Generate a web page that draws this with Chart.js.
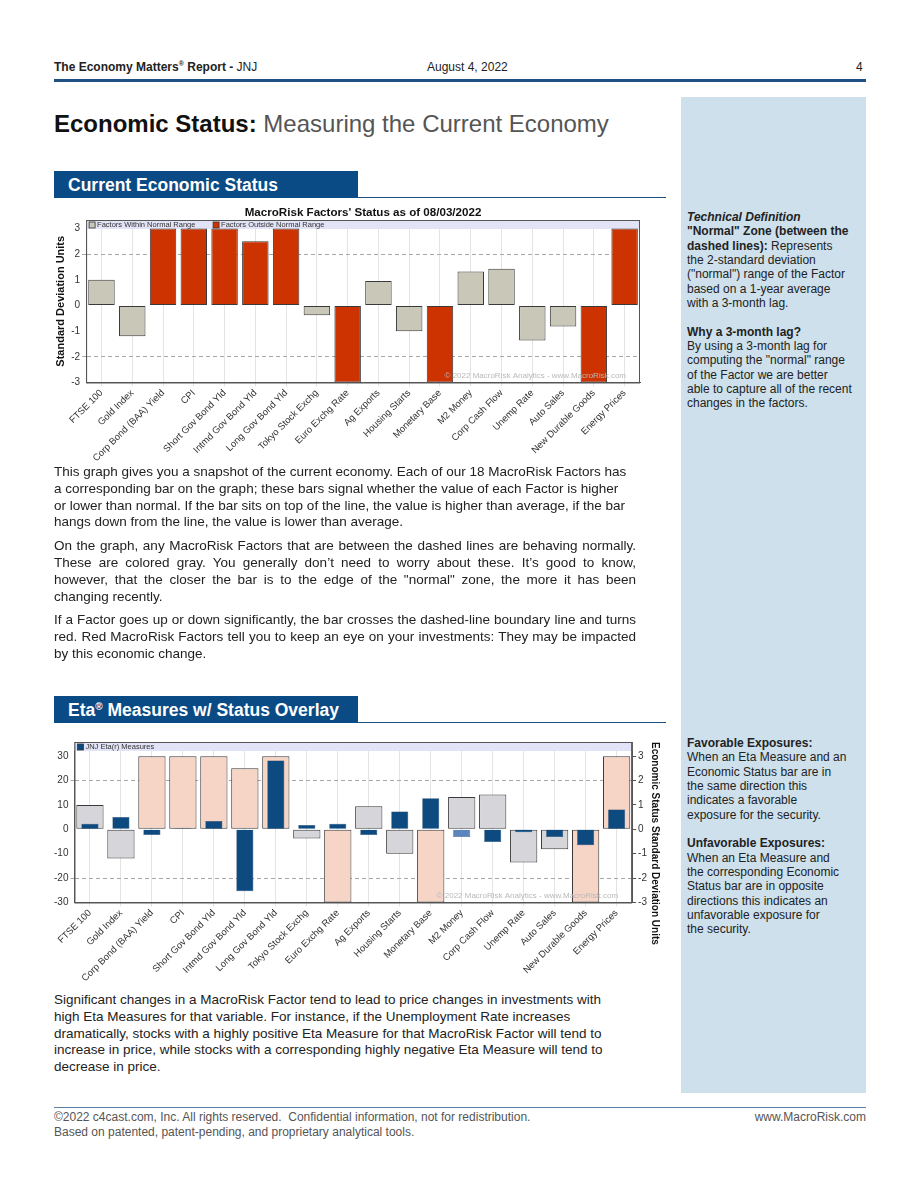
<!DOCTYPE html>
<html>
<head>
<meta charset="utf-8">
<script src="https://cdn.jsdelivr.net/npm/chart.js@4"></script>
<style>
  body { margin: 0; background: #fff; font-family: Arial, "Liberation Sans", sans-serif; color: #222; }
  .pagina { position: relative; width: 920px; height: 1191px; overflow: hidden; }
  .abs { position: absolute; }
  .cab { top: 60px; font-size: 12px; color: #222; white-space: nowrap; }
  .regua { left: 54px; width: 812px; background: #1f5283; }
  .lateral { left: 681px; top: 97px; width: 185px; height: 996px; background: #cde0ec; }
  .titulo { left: 54px; top: 110px; font-size: 24px; color: #555; white-space: nowrap; }
  .titulo b { color: #111; }
  .secao { left: 54px; width: 304px; height: 27px; background: #0b4b85; color: #fff; font-weight: bold; font-size: 17.5px; line-height: 28px; padding-left: 14px; box-sizing: border-box; white-space: nowrap; }
  .secao sup { font-size: 10px; line-height: 0; vertical-align: 6px; }
  .linhaSecao { left: 358px; width: 308px; height: 1px; background: #1f5283; }
  .texto { left: 54px; font-size: 13.5px; line-height: 16.8px; color: #222; white-space: nowrap; }
  .texto .j { text-align: justify; text-align-last: justify; white-space: normal; }
  .lado { left: 687px; width: 178px; font-size: 12px; line-height: 14.35px; color: #222; white-space: nowrap; }
  .rodape { left: 54px; font-size: 12px; line-height: 15px; color: #555; white-space: nowrap; }
</style>
</head>
<body>
<div class="pagina">
  <div class="abs cab" style="left:54px;font-weight:bold;">The Economy Matters<sup style="font-size:7px">®</sup> Report - <span style="font-weight:normal">JNJ</span></div>
  <div class="abs cab" style="left:427px;">August 4, 2022</div>
  <div class="abs cab" style="left:856px;">4</div>
  <div class="abs regua" style="top:79px;height:3px;"></div>

  <div class="abs lateral"></div>

  <div class="abs titulo"><b>Economic Status:</b> Measuring the Current Economy</div>

  <div class="abs secao" style="top:171px;">Current Economic Status</div>
  <div class="abs linhaSecao" style="top:197px;"></div>

  <div class="abs" style="left:50px;top:203px;width:600px;height:262px;">
    <canvas id="graficoStatus" width="600" height="262"></canvas>
  </div>

  <div class="abs lado" style="top:210px;">
    <b><i>Technical Definition</i></b><br>
    <b>"Normal" Zone (between the</b><br>
    <b>dashed lines):</b> Represents<br>
    the 2-standard deviation<br>
    ("normal") range of the Factor<br>
    based on a 1-year average<br>
    with a 3-month lag.<br><br>
    <b>Why a 3-month lag?</b><br>
    By using a 3-month lag for<br>
    computing the "normal" range<br>
    of the Factor we are better<br>
    able to capture all of the recent<br>
    changes in the factors.
  </div>

  <div class="abs texto" style="top:464px;width:582px;">
    <div>This graph gives you a snapshot of the current economy. Each of our 18 MacroRisk Factors has</div>
    <div>a corresponding bar on the graph; these bars signal whether the value of each Factor is higher</div>
    <div>or lower than normal. If the bar sits on top of the line, the value is higher than average, if the bar</div>
    <div>hangs down from the line, the value is lower than average.</div>
    <div style="height:7px"></div>
    <div class="j">On the graph, any MacroRisk Factors that are between the dashed lines are behaving normally.</div>
    <div class="j">These are colored gray. You generally don’t need to worry about these. It’s good to know,</div>
    <div class="j">however, that the closer the bar is to the edge of the "normal" zone, the more it has been</div>
    <div>changing recently.</div>
    <div style="height:7px"></div>
    <div class="j">If a Factor goes up or down significantly, the bar crosses the dashed-line boundary line and turns</div>
    <div class="j">red. Red MacroRisk Factors tell you to keep an eye on your investments: They may be impacted</div>
    <div>by this economic change.</div>
  </div>

  <div class="abs secao" style="top:696px;">Eta<sup>®</sup> Measures w/ Status Overlay</div>
  <div class="abs linhaSecao" style="top:722px;"></div>

  <div class="abs" style="left:50px;top:733px;width:625px;height:252px;">
    <canvas id="graficoEta" width="625" height="252"></canvas>
  </div>

  <div class="abs lado" style="top:736px;">
    <b>Favorable Exposures:</b><br>
    When an Eta Measure and an<br>
    Economic Status bar are in<br>
    the same direction this<br>
    indicates a favorable<br>
    exposure for the security.<br><br>
    <b>Unfavorable Exposures:</b><br>
    When an Eta Measure and<br>
    the corresponding Economic<br>
    Status bar are in opposite<br>
    directions this indicates an<br>
    unfavorable exposure for<br>
    the security.
  </div>

  <div class="abs texto" style="top:992px;">
    <div>Significant changes in a MacroRisk Factor tend to lead to price changes in investments with</div>
    <div>high Eta Measures for that variable. For instance, if the Unemployment Rate increases</div>
    <div>dramatically, stocks with a highly positive Eta Measure for that MacroRisk Factor will tend to</div>
    <div>increase in price, while stocks with a corresponding highly negative Eta Measure will tend to</div>
    <div>decrease in price.</div>
  </div>

  <div class="abs regua" style="top:1107px;height:1px;background:#5a7fa3;"></div>
  <div class="abs rodape" style="top:1110px;">©2022 c4cast.com, Inc. All rights reserved.&nbsp; Confidential information, not for redistribution.<br>Based on patented, patent-pending, and proprietary analytical tools.</div>
  <div class="abs rodape" style="top:1110px;left:auto;right:54px;">www.MacroRisk.com</div>
</div>

<script>
const fatores = [
  "FTSE 100", "Gold Index", "Corp Bond (BAA) Yield", "CPI", "Short Gov Bond Yld",
  "Intmd Gov Bond Yld", "Long Gov Bond Yld", "Tokyo Stock Exchg", "Euro Exchg Rate",
  "Ag Exports", "Housing Starts", "Monetary Base", "M2 Money", "Corp Cash Flow",
  "Unemp Rate", "Auto Sales", "New Durable Goods", "Energy Prices",
];
// desvios padrao (limitados a +-3 no grafico)
const statusValores = [1.0, -1.2, 3, 3, 3, 2.5, 3, -0.38, -3, 0.95, -1.0, -3, 1.32, 1.43, -1.36, -0.82, -3, 3];
const etaValores = [2.3, 5.1, -2.3, 0.4, 3.4, -25.4, 28.2, 1.8, 2.3, -2.3, 7.3, 12.7, -3.2, -5.2, -1.2, -3.2, -6.5, 8.1];
const ticksStatus = [-3, -2, -1, 0, 1, 2, 3];
const ticksEta = [-30, -20, -10, 0, 10, 20, 30];
const legendaStatus = ["Factors Within Normal Range", "Factors Outside Normal Range"];
const legendaEta = ["JNJ Eta(r) Measures"];
const tituloStatus = "MacroRisk Factors' Status as of 08/03/2022";
const marcaDagua = "© 2022 MacroRisk Analytics - www.MacroRisk.com";

const fonte = "Arial, 'Liberation Sans', sans-serif";
const vermelho = "#cc3300",
  cinza = "#c8c7b8",
  pessego = "#f6d4c6",
  cinzaClaro = "#d6d6da",
  azul = "#0d4a80",
  azulClaro = "#5b86bd";

const foraDoNormal = (v) => Math.abs(v) > 2;

// faixa lilas no topo com a legenda, titulo, moldura e marca d'agua
const decoracao = {
  id: "decoracao",
  beforeDatasetsDraw(chart, args, opts) {
    const { ctx, chartArea: a } = chart;
    ctx.save();
    ctx.fillStyle = "#e3e3f7";
    ctx.fillRect(a.left, a.top, a.right - a.left, opts.alturaFaixa);
    ctx.restore();
  },
  afterDatasetsDraw(chart, args, opts) {
    const { ctx, chartArea: a } = chart;
    ctx.save();
    if (opts.titulo) {
      ctx.font = "bold 11.6px " + fonte;
      ctx.fillStyle = "#111";
      ctx.textAlign = "center";
      ctx.textBaseline = "bottom";
      ctx.fillText(opts.titulo, (a.left + a.right) / 2, a.top - 1);
      ctx.textAlign = "left";
    }
    ctx.font = "7.5px " + fonte;
    ctx.textBaseline = "middle";
    const yMeio = a.top + opts.alturaFaixa / 2 + 0.5;
    let x = a.left + 3;
    opts.itens.forEach((item, i) => {
      ctx.fillStyle = opts.cores[i];
      ctx.fillRect(x, yMeio - 3, 6, 6);
      ctx.strokeStyle = "#333";
      ctx.lineWidth = 0.8;
      ctx.strokeRect(x, yMeio - 3, 6, 6);
      ctx.fillStyle = "#333";
      ctx.fillText(item, x + 8, yMeio);
      x += opts.passo;
    });
    ctx.font = "8px " + fonte;
    ctx.fillStyle = "#b8b8b8";
    ctx.textAlign = "right";
    ctx.textBaseline = "bottom";
    ctx.fillText(marcaDagua, a.right - 14, a.bottom - 3);
    ctx.strokeStyle = "#555";
    ctx.lineWidth = 1;
    ctx.strokeRect(a.left + 0.5, a.top + 0.5, a.right - a.left - 1, a.bottom - a.top);
    ctx.restore();
  },
};

const eixoX = {
  grid: { offset: false, color: "#e4e4e4", tickLength: 4 },
  border: { color: "#555" },
  ticks: {
    autoSkip: false,
    maxRotation: 45,
    minRotation: 45,
    color: "#333",
    padding: 1,
    font: { size: 9.5, family: fonte },
  },
};

const gradeTracejada = (ctx) => (Math.abs(ctx.tick.value) === 2 || Math.abs(ctx.tick.value) === 20 ? "#a8a8a8" : "rgba(0,0,0,0)");

new Chart(document.getElementById("graficoStatus"), {
  type: "bar",
  data: {
    labels: fatores,
    datasets: [
      {
        data: statusValores,
        backgroundColor: statusValores.map((v) => (foraDoNormal(v) ? vermelho : cinza)),
        borderColor: "#3a3a3a",
        borderWidth: 1,
        borderSkipped: false,
        barPercentage: 0.86,
        categoryPercentage: 1,
      },
    ],
  },
  options: {
    responsive: false,
    animation: false,
    layout: { padding: { left: 4, right: 10, top: 17, bottom: 0 } },
    plugins: {
      legend: { display: false },
      tooltip: { enabled: false },
      decoracao: { titulo: tituloStatus, alturaFaixa: 9, itens: legendaStatus, cores: [cinza, vermelho], passo: 124 },
    },
    scales: {
      x: eixoX,
      y: {
        min: -3,
        max: 3.33,
        afterBuildTicks: (eixo) => {
          eixo.ticks = ticksStatus.map((v) => ({ value: v }));
        },
        grid: { color: gradeTracejada, tickLength: 4, drawTicks: true },
        border: { color: "#555", dash: [4, 3] },
        ticks: { color: "#333", padding: 2, font: { size: 10, family: fonte } },
        title: {
          display: true,
          text: "Standard Deviation Units",
          color: "#111",
          padding: { top: 0, bottom: 2 },
          font: { size: 11, weight: "bold", family: fonte },
        },
      },
    },
  },
  plugins: [decoracao],
});

new Chart(document.getElementById("graficoEta"), {
  type: "bar",
  data: {
    labels: fatores,
    datasets: [
      {
        data: etaValores,
        yAxisID: "y",
        order: 1,
        grouped: false,
        backgroundColor: fatores.map((f) => (f === "M2 Money" ? azulClaro : azul)),
        borderColor: "#163a5e",
        borderWidth: 0.5,
        barPercentage: 0.55,
        categoryPercentage: 1,
      },
      {
        data: statusValores,
        yAxisID: "y2",
        order: 2,
        grouped: false,
        backgroundColor: statusValores.map((v) => (foraDoNormal(v) ? pessego : cinzaClaro)),
        borderColor: "#3a3a3a",
        borderWidth: 1,
        borderSkipped: false,
        barPercentage: 0.88,
        categoryPercentage: 1,
      },
    ],
  },
  options: {
    responsive: false,
    animation: false,
    layout: { padding: { left: 2, right: 8, top: 9, bottom: 0 } },
    plugins: {
      legend: { display: false },
      tooltip: { enabled: false },
      decoracao: { alturaFaixa: 9, itens: legendaEta, cores: [azul], passo: 100 },
    },
    scales: {
      x: eixoX,
      y: {
        min: -30,
        max: 35.8,
        afterBuildTicks: (eixo) => {
          eixo.ticks = ticksEta.map((v) => ({ value: v }));
        },
        grid: { color: gradeTracejada, tickLength: 4 },
        border: { color: "#555", dash: [4, 3] },
        ticks: { color: "#333", padding: 2, font: { size: 10, family: fonte } },
      },
      y2: {
        position: "right",
        min: -3,
        max: 3.58,
        afterBuildTicks: (eixo) => {
          eixo.ticks = ticksStatus.map((v) => ({ value: v }));
        },
        grid: { drawOnChartArea: false, tickLength: 4, color: "#555" },
        border: { color: "#555" },
        ticks: { color: "#333", padding: 2, font: { size: 10, family: fonte } },
        title: {
          display: true,
          text: "Economic Status Standard Deviation Units",
          align: "end",
          color: "#111",
          padding: { top: 6, bottom: 0 },
          font: { size: 10, weight: "bold", family: fonte },
        },
      },
    },
  },
  plugins: [decoracao],
});
</script>
</body>
</html>
